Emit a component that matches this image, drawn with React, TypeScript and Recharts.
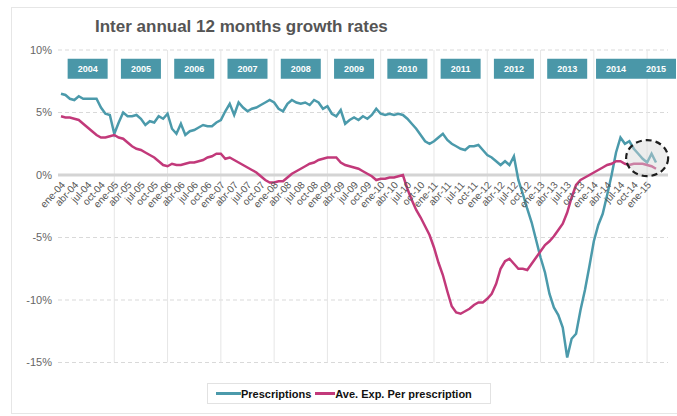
import { LineChart, Line, CartesianGrid, XAxis, YAxis, ReferenceLine, ReferenceDot } from 'recharts';

// month names and years used to build the category axis (ene-04 .. mar-15)
const monthNames = ['ene', 'feb', 'mar', 'abr', 'may', 'jun', 'jul', 'ago', 'sep', 'oct', 'nov', 'dic'];
const yearSuffixes = ['04', '05', '06', '07', '08', '09', '10', '11', '12', '13', '14', '15'];

// inter annual growth rate of prescriptions, %, one value per month
const prescriptions = [
  6.5, 6.4, 6.1, 6.0, 6.3, 6.1, 6.1, 6.1, 6.1, 5.4, 4.9, 4.8,
  3.3, 4.2, 5.0, 4.7, 4.7, 4.8, 4.5, 4.0, 4.3, 4.2, 4.7, 4.5,
  4.9, 3.7, 3.3, 4.1, 3.2, 3.5, 3.6, 3.8, 4.0, 3.9, 3.9, 4.2,
  4.4, 5.1, 5.7, 4.8, 5.8, 5.4, 5.1, 5.3, 5.4, 5.6, 5.8, 6.0,
  5.8, 5.3, 5.1, 5.7, 6.0, 5.8, 5.7, 5.8, 5.6, 6.0, 5.8, 5.3,
  5.5, 4.9, 4.7, 5.2, 4.1, 4.4, 4.6, 4.4, 4.7, 4.5, 4.8, 5.3,
  4.9, 4.8, 4.9, 4.8, 4.9, 4.8, 4.5, 4.1, 3.7, 3.2, 2.7, 2.5,
  2.7, 3.0, 3.3, 2.8, 2.5, 2.3, 2.1, 2.0, 2.3, 2.3, 2.4, 2.0,
  1.6, 1.4, 1.1, 0.8, 1.1, 0.8, 1.5, -0.4, -1.5, -2.7, -3.8, -5.2,
  -6.6, -7.8, -9.5, -10.6, -11.2, -12.2, -14.6, -13.1, -12.7, -10.8, -9.2, -7.3,
  -5.3, -4.0, -3.1, -1.6, 0.0, 1.8, 3.0, 2.5, 2.7, 2.1, 1.7, 1.3,
  1.0, 1.7, 1.0,
];

// inter annual growth rate of average expense per prescription, %
const avgExpense = [
  4.7, 4.6, 4.6, 4.5, 4.4, 4.1, 3.8, 3.5, 3.2, 3.0, 3.0, 3.1,
  3.2, 3.0, 2.9, 2.6, 2.3, 2.1, 2.0, 1.8, 1.6, 1.4, 1.1, 0.8,
  0.7, 0.9, 0.8, 0.8, 0.9, 1.0, 1.0, 1.1, 1.2, 1.4, 1.5, 1.7,
  1.7, 1.3, 1.4, 1.2, 1.0, 0.8, 0.6, 0.4, 0.2, -0.1, -0.4, -0.6,
  -0.6, -0.5, -0.5, -0.2, 0.1, 0.3, 0.5, 0.7, 0.9, 1.0, 1.2, 1.3,
  1.4, 1.4, 1.4, 1.0, 0.8, 0.7, 0.6, 0.5, 0.3, 0.1, -0.1, -0.4,
  -0.3, -0.3, -0.2, -0.2, -0.1, 0.0, -1.1, -2.0, -2.8, -3.4, -4.1, -4.8,
  -5.8, -7.0, -8.0, -9.3, -10.5, -11.0, -11.1, -10.9, -10.7, -10.4, -10.2, -10.2,
  -9.9, -9.5, -8.7, -7.5, -6.9, -6.7, -7.1, -7.5, -7.5, -7.6, -7.1, -6.6,
  -6.1, -5.6, -5.3, -4.9, -4.4, -3.9, -3.0, -1.8, -0.8, -0.4, -0.2, 0.0,
  0.2, 0.4, 0.6, 0.8, 0.9, 1.1, 1.1, 0.9, 0.8, 0.9, 0.9, 0.9,
  0.8, 0.7, 0.5,
];

const seriesNames = ['Prescriptions', 'Ave. Exp. Per prescription'];
const yTicks = [10, 5, 0, -5, -10, -15];

// year badges on top and the month each one is centred on
const yearLabels = ['2004', '2005', '2006', '2007', '2008', '2009', '2010', '2011', '2012', '2013', '2014', '2015'];
const yearAnchors = ['jul-04', 'jul-05', 'jul-06', 'jul-07', 'jul-08', 'jul-09', 'jul-10', 'jul-11', 'jul-12', 'jul-13', 'jun-14', 'mar-15'];
// vertical separators between years
const yearStarts = ['ene-05', 'ene-06', 'ene-07', 'ene-08', 'ene-09', 'ene-10', 'ene-11', 'ene-12', 'ene-13', 'ene-14', 'ene-15'];

const months = yearSuffixes.flatMap((y) => monthNames.map((m) => `${m}-${y}`)).slice(0, prescriptions.length);
const data = months.map((m, i) => ({ month: m, presc: prescriptions[i], exp: avgExpense[i] }));

const TEAL = '#4b9aab';
const PINK = '#c2397a';
const FONT = '"Liberation Sans", Arial, Helvetica, sans-serif';

const W = 677;
const H = 416;
const TOP = 50;
const BOTTOM = 53.5;
const Y_MIN = -15;
const Y_MAX = 10;
const ZERO_Y = TOP + (H - TOP - BOTTOM) * (Y_MAX / (Y_MAX - Y_MIN));

const MonthTick = (props: any) => {
  const { x, payload } = props;
  return (
    <g transform={`translate(${x + 2},${ZERO_Y + 8})`}>
      <text textAnchor="end" transform="rotate(-48)" fontSize={10} fill="#555" dy="0.35em" fontFamily={FONT}>
        {payload.value}
      </text>
    </g>
  );
};

const YearBox = (props: any) => {
  const { cx, cy, label } = props;
  return (
    <g>
      <rect x={cx - 20} y={cy - 10} width={40} height={20} fill="#4a97a8" />
      <text x={cx} y={cy} dy="0.36em" textAnchor="middle" fill="#fff" fontSize={9} fontWeight="bold" fontFamily={FONT}>
        {label}
      </text>
    </g>
  );
};

const Highlight = (props: any) => {
  const { cx, cy } = props;
  return (
    <ellipse cx={cx} cy={cy} rx={21} ry={18} fill="#d8d8d8" fillOpacity={0.45}
      stroke="#1e1e1e" strokeWidth={2.2} strokeDasharray="6 4" />
  );
};

const App = () => {
  return (
    <div style={{ position: 'absolute', left: 0, top: 0, width: W, height: H, background: '#fff', fontFamily: FONT, overflow: 'hidden' }}>
      <div style={{ position: 'absolute', left: 11, top: 7, width: W, height: H - 11, border: '1px solid #e6e6e6' }} />
      <div style={{ position: 'absolute', left: 95, top: 18, fontSize: 17, lineHeight: '17px', fontWeight: 'bold', color: '#555', whiteSpace: 'nowrap' }}>
        Inter annual 12 months growth rates
      </div>

      <div style={{ position: 'absolute', left: 0, top: 0 }}>
        <LineChart width={W} height={H} data={data} margin={{ top: TOP, right: 9, bottom: BOTTOM - 30, left: 0 }}>
          <CartesianGrid vertical={false} stroke="#d9d9d9" strokeDasharray="4 3" />
          {yearStarts.map((m) => (
            <ReferenceLine key={m} x={m} stroke="#e6e6e6" strokeWidth={1} />
          ))}
          <ReferenceLine y={0} stroke="#d4d4d4" strokeWidth={3} />
          <XAxis dataKey="month" interval={2} height={30} axisLine={false} tickLine={false}
            padding={{ left: 3, right: 12 }} tick={<MonthTick />} />
          <YAxis width={58} domain={[Y_MIN, Y_MAX]} ticks={yTicks} interval={0} axisLine={false} tickLine={false}
            tickMargin={0} tickFormatter={(v: number) => `${v}%`}
            tick={{ fill: '#666', fontSize: 11, fontFamily: FONT }} />
          <Line type="linear" dataKey="presc" name={seriesNames[0]} stroke={TEAL} strokeWidth={2.5} dot={false} isAnimationActive={false} />
          <Line type="linear" dataKey="exp" name={seriesNames[1]} stroke={PINK} strokeWidth={2.5} dot={false} isAnimationActive={false} />
          {yearLabels.map((y, i) => (
            <ReferenceDot key={y} x={yearAnchors[i]} y={8.5} r={1} shape={(p: any) => <YearBox {...p} label={y} />} />
          ))}
          <ReferenceDot x="ene-15" y={1.35} r={1} shape={(p: any) => <Highlight {...p} />} />
        </LineChart>
      </div>

      <div style={{ position: 'absolute', left: 207, top: 383, width: 284, height: 21, border: '1px solid #e2e2e2', boxSizing: 'border-box', display: 'flex', alignItems: 'center', paddingLeft: 8, fontSize: 11, fontWeight: 'bold', color: '#111' }}>
        <span style={{ display: 'inline-block', width: 25, height: 3, background: TEAL }} />
        <span style={{ marginRight: 4 }}>{seriesNames[0]}</span>
        <span style={{ display: 'inline-block', width: 20, height: 3, background: PINK }} />
        <span>{seriesNames[1]}</span>
      </div>
    </div>
  );
};

export default App;
